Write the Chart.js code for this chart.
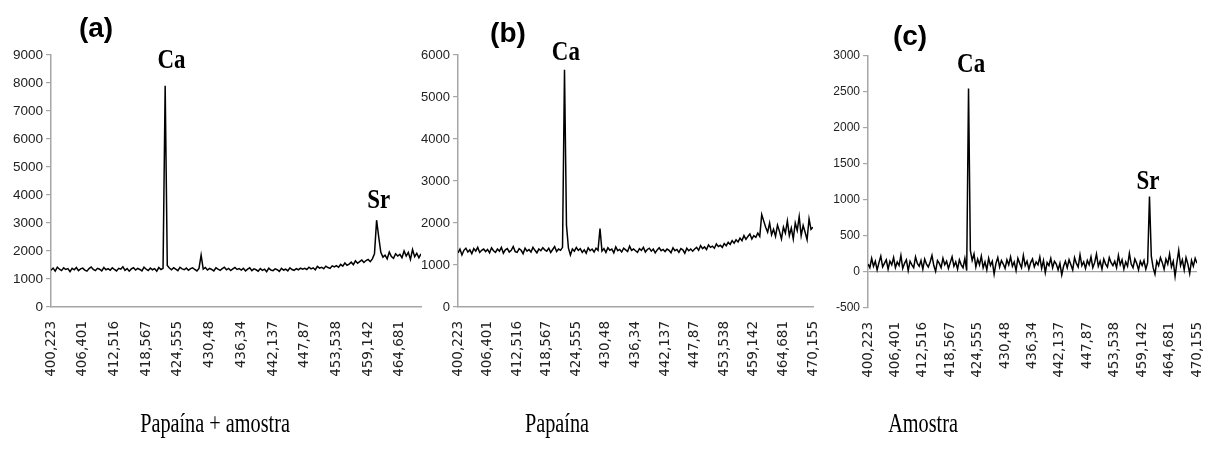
<!DOCTYPE html>
<html>
<head>
<meta charset="utf-8">
<script src="https://cdn.jsdelivr.net/npm/chart.js@4.4.0/dist/chart.umd.min.js"></script>
<style>
  body { margin: 0; background: #fff; }
  #wrap { position: relative; width: 1205px; height: 452px; overflow: hidden; background: #fff; }
  .panel { position: absolute; top: 0; height: 452px; }
</style>
</head>
<body>
<div id="wrap">
  <div class="panel" style="left:0;width:429px"><canvas id="chartA"></canvas></div>
  <div class="panel" style="left:415px;width:406px"><canvas id="chartB"></canvas></div>
  <div class="panel" style="left:820px;width:385px"><canvas id="chartC"></canvas></div>
</div>
<script>
// wavelength labels (nm), one every 15 points
const wavelengths = ["400,223", "406,401", "412,516", "418,567", "424,555", "430,48", "436,34",
  "442,137", "447,87", "453,538", "459,142", "464,681", "470,155"];
const STEP = 15;

// (a) Papaína + amostra  (one row per label interval)
const intensityA = [
  1310,1390,1280,1420,1350,1300,1400,1340,1370,1260,1380,1330,1410,1300,1360,
  1390,1320,1280,1370,1430,1340,1300,1380,1350,1290,1410,1330,1370,1310,1400,
  1340,1290,1380,1350,1440,1310,1370,1280,1360,1400,1320,1380,1340,1290,1420,
  1350,1300,1390,1330,1370,1280,1410,1340,1380,7900,1480,1390,1330,1400,1350,
  1300,1420,1360,1330,1390,1310,1370,1400,1340,1290,1380,1850,1350,1410,1320,
  1380,1340,1290,1400,1350,1310,1370,1420,1330,1380,1300,1360,1410,1340,1370,
  1320,1380,1290,1350,1400,1300,1360,1330,1280,1370,1310,1350,1260,1390,1320,
  1300,1360,1330,1270,1380,1320,1350,1290,1400,1340,1310,1370,1330,1390,1350,
  1380,1340,1420,1360,1400,1330,1450,1390,1420,1370,1460,1410,1380,1470,1430,
  1480,1420,1520,1460,1570,1490,1530,1600,1510,1650,1560,1620,1680,1590,1660,
  1700,1620,1720,1900,3100,2500,1950,1780,1850,1720,1960,1800,1740,1900,1820,
  1880,1760,2000,1820,1950,1700,2050,1800,1920,1760,1900
];

// (b) Papaína
const intensityB = [
  1290,1380,1240,1350,1400,1310,1360,1270,1390,1330,1420,1300,1350,1380,1320,
  1370,1290,1410,1340,1300,1380,1330,1420,1280,1360,1390,1310,1350,1440,1320,
  1300,1390,1350,1270,1400,1330,1370,1310,1420,1350,1290,1380,1340,1410,1360,
  1330,1400,1300,1370,1440,1320,1380,1350,1420,5650,1950,1400,1240,1380,1330,
  1420,1350,1390,1300,1360,1280,1410,1340,1380,1310,1400,1350,1870,1330,1390,
  1300,1410,1350,1380,1290,1430,1340,1370,1310,1400,1360,1320,1450,1350,1380,
  1340,1300,1390,1350,1420,1310,1370,1400,1330,1380,1290,1360,1410,1340,1370,
  1320,1380,1350,1290,1410,1340,1370,1300,1390,1360,1280,1400,1340,1380,1330,
  1380,1420,1350,1460,1390,1430,1370,1480,1420,1450,1400,1500,1440,1470,1420,
  1510,1460,1540,1490,1580,1520,1600,1550,1640,1580,1700,1610,1680,1740,1620,
  1700,1660,1760,1680,2200,2050,1900,1780,2000,1720,1850,1680,1950,1800,1620,
  1900,1760,2050,1700,1880,1620,2000,1820,2150,1700,1940,1780,1600,2100,1850,
  1900
];

// (c) Amostra
const intensityC = [
  110,60,190,80,150,30,130,220,70,120,170,40,150,100,200,
  60,140,90,230,50,120,170,20,150,100,60,210,120,80,160,
  40,180,110,70,140,230,90,10,160,120,60,190,100,150,50,
  130,210,80,140,40,170,100,60,190,20,2550,300,160,250,70,
  180,100,220,60,140,30,190,90,150,-30,120,200,70,160,110,
  50,170,100,210,80,140,20,190,120,60,230,90,150,40,130,
  180,70,140,100,210,50,160,-10,130,90,190,60,150,110,30,
  120,-40,80,150,60,170,100,30,200,120,70,240,90,140,50,
  160,100,210,60,130,250,80,150,40,180,110,70,200,130,90,
  150,60,230,100,170,40,140,80,260,110,60,180,120,30,150,
  90,160,40,130,1050,220,60,-30,150,90,200,130,40,180,110,
  250,70,150,-60,130,300,90,170,30,200,110,-20,160,80,190,
  120
];

const AXIS = "#a6a6a6";
const TEXT = "#222";

function drawCondensed(ctx, text, x, y, font, sx) {
  ctx.save();
  ctx.translate(x, y);
  ctx.scale(sx, 1);
  ctx.font = font;
  ctx.textAlign = "center";
  ctx.textBaseline = "alphabetic";
  ctx.fillStyle = "#000";
  ctx.fillText(text, 0, 0);
  ctx.restore();
}

function decor(p) {
  return {
    id: "decor",
    afterDraw(chart) {
      const ctx = chart.ctx;
      const xs = chart.scales.x, ys = chart.scales.y;
      // panel letter
      ctx.save();
      ctx.font = 'bold 28px "Liberation Sans", Arial, sans-serif';
      ctx.fillStyle = "#000";
      ctx.textAlign = "center";
      ctx.textBaseline = "middle";
      ctx.fillText(p.letter, p.letterX, p.letterY);
      ctx.restore();
      // element labels over the peaks
      p.peaks.forEach(pk => {
        drawCondensed(ctx, pk.text, xs.getPixelForValue(pk.i), ys.getPixelForValue(pk.v),
          'bold 27px "Liberation Serif", serif', 0.85);
      });
      // caption below
      drawCondensed(ctx, p.caption, p.captionX, 432, '27px "Liberation Serif", serif', 0.75);
    }
  };
}

function makePanel(id, values, p) {
  const n = values.length;
  return new Chart(document.getElementById(id), {
    type: "line",
    data: {
      datasets: [{
        data: values.map((v, i) => ({ x: i, y: v })),
        borderColor: "#000",
        borderWidth: 1.5,
        pointRadius: 0,
        tension: 0
      }]
    },
    options: {
      responsive: true,
      maintainAspectRatio: false,
      animation: false,
      layout: { padding: { top: p.top, right: 8, left: 0, bottom: 0 } },
      plugins: { legend: { display: false }, tooltip: { enabled: false } },
      scales: {
        x: {
          type: "linear",
          min: 0,
          max: n - 1,
          border: { display: p.bottomAxis, color: AXIS, width: 1.5 },
          grid: { display: false, drawTicks: false },
          ticks: {
            stepSize: STEP,
            includeBounds: false,
            autoSkip: false,
            maxRotation: 90,
            minRotation: 90,
            padding: 14,
            color: TEXT,
            font: { family: '"DejaVu Sans", sans-serif', size: 13.5 },
            callback: v => (v % STEP === 0 ? wavelengths[v / STEP] : "")
          },
          afterFit: s => { s.height = p.xHeight; s.paddingLeft = 0; s.paddingRight = 0; }
        },
        y: {
          min: p.yMin,
          max: p.yMax,
          border: { display: true, color: AXIS, width: 1.5 },
          grid: {
            drawOnChartArea: p.zeroLine,
            color: c => (c.tick && c.tick.value === 0 ? AXIS : "rgba(0,0,0,0)"),
            tickColor: AXIS,
            tickLength: 5,
            lineWidth: 1.2
          },
          ticks: {
            stepSize: p.yStep,
            padding: 3,
            color: TEXT,
            font: { family: '"Liberation Sans", Arial, sans-serif', size: p.fontSize },
            callback: v => String(v)
          },
          afterFit: s => { s.width = p.yWidth; }
        }
      }
    },
    plugins: [decor(p)]
  });
}

makePanel("chartA", intensityA, {
  top: 55, xHeight: 145, yWidth: 51, yMin: 0, yMax: 9000, yStep: 1000,
  fontSize: 13.5, bottomAxis: true, zeroLine: false,
  letter: "(a)", letterX: 96, letterY: 29,
  peaks: [{ text: "Ca", i: 57, v: 8530 }, { text: "Sr", i: 155, v: 3540 }],
  caption: "Papaína + amostra", captionX: 215
});

makePanel("chartB", intensityB, {
  top: 55, xHeight: 145, yWidth: 43, yMin: 0, yMax: 6000, yStep: 1000,
  fontSize: 13, bottomAxis: true, zeroLine: false,
  letter: "(b)", letterX: 93, letterY: 34,
  peaks: [{ text: "Ca", i: 54.7, v: 5880 }],
  caption: "Papaína", captionX: 142
});

makePanel("chartC", intensityC, {
  top: 56, xHeight: 144, yWidth: 48, yMin: -500, yMax: 3000, yStep: 500,
  fontSize: 12, bottomAxis: false, zeroLine: true,
  letter: "(c)", letterX: 90, letterY: 37,
  peaks: [{ text: "Ca", i: 56.4, v: 2780 }, { text: "Sr", i: 153.2, v: 1150 }],
  caption: "Amostra", captionX: 103
});
</script>
</body>
</html>
